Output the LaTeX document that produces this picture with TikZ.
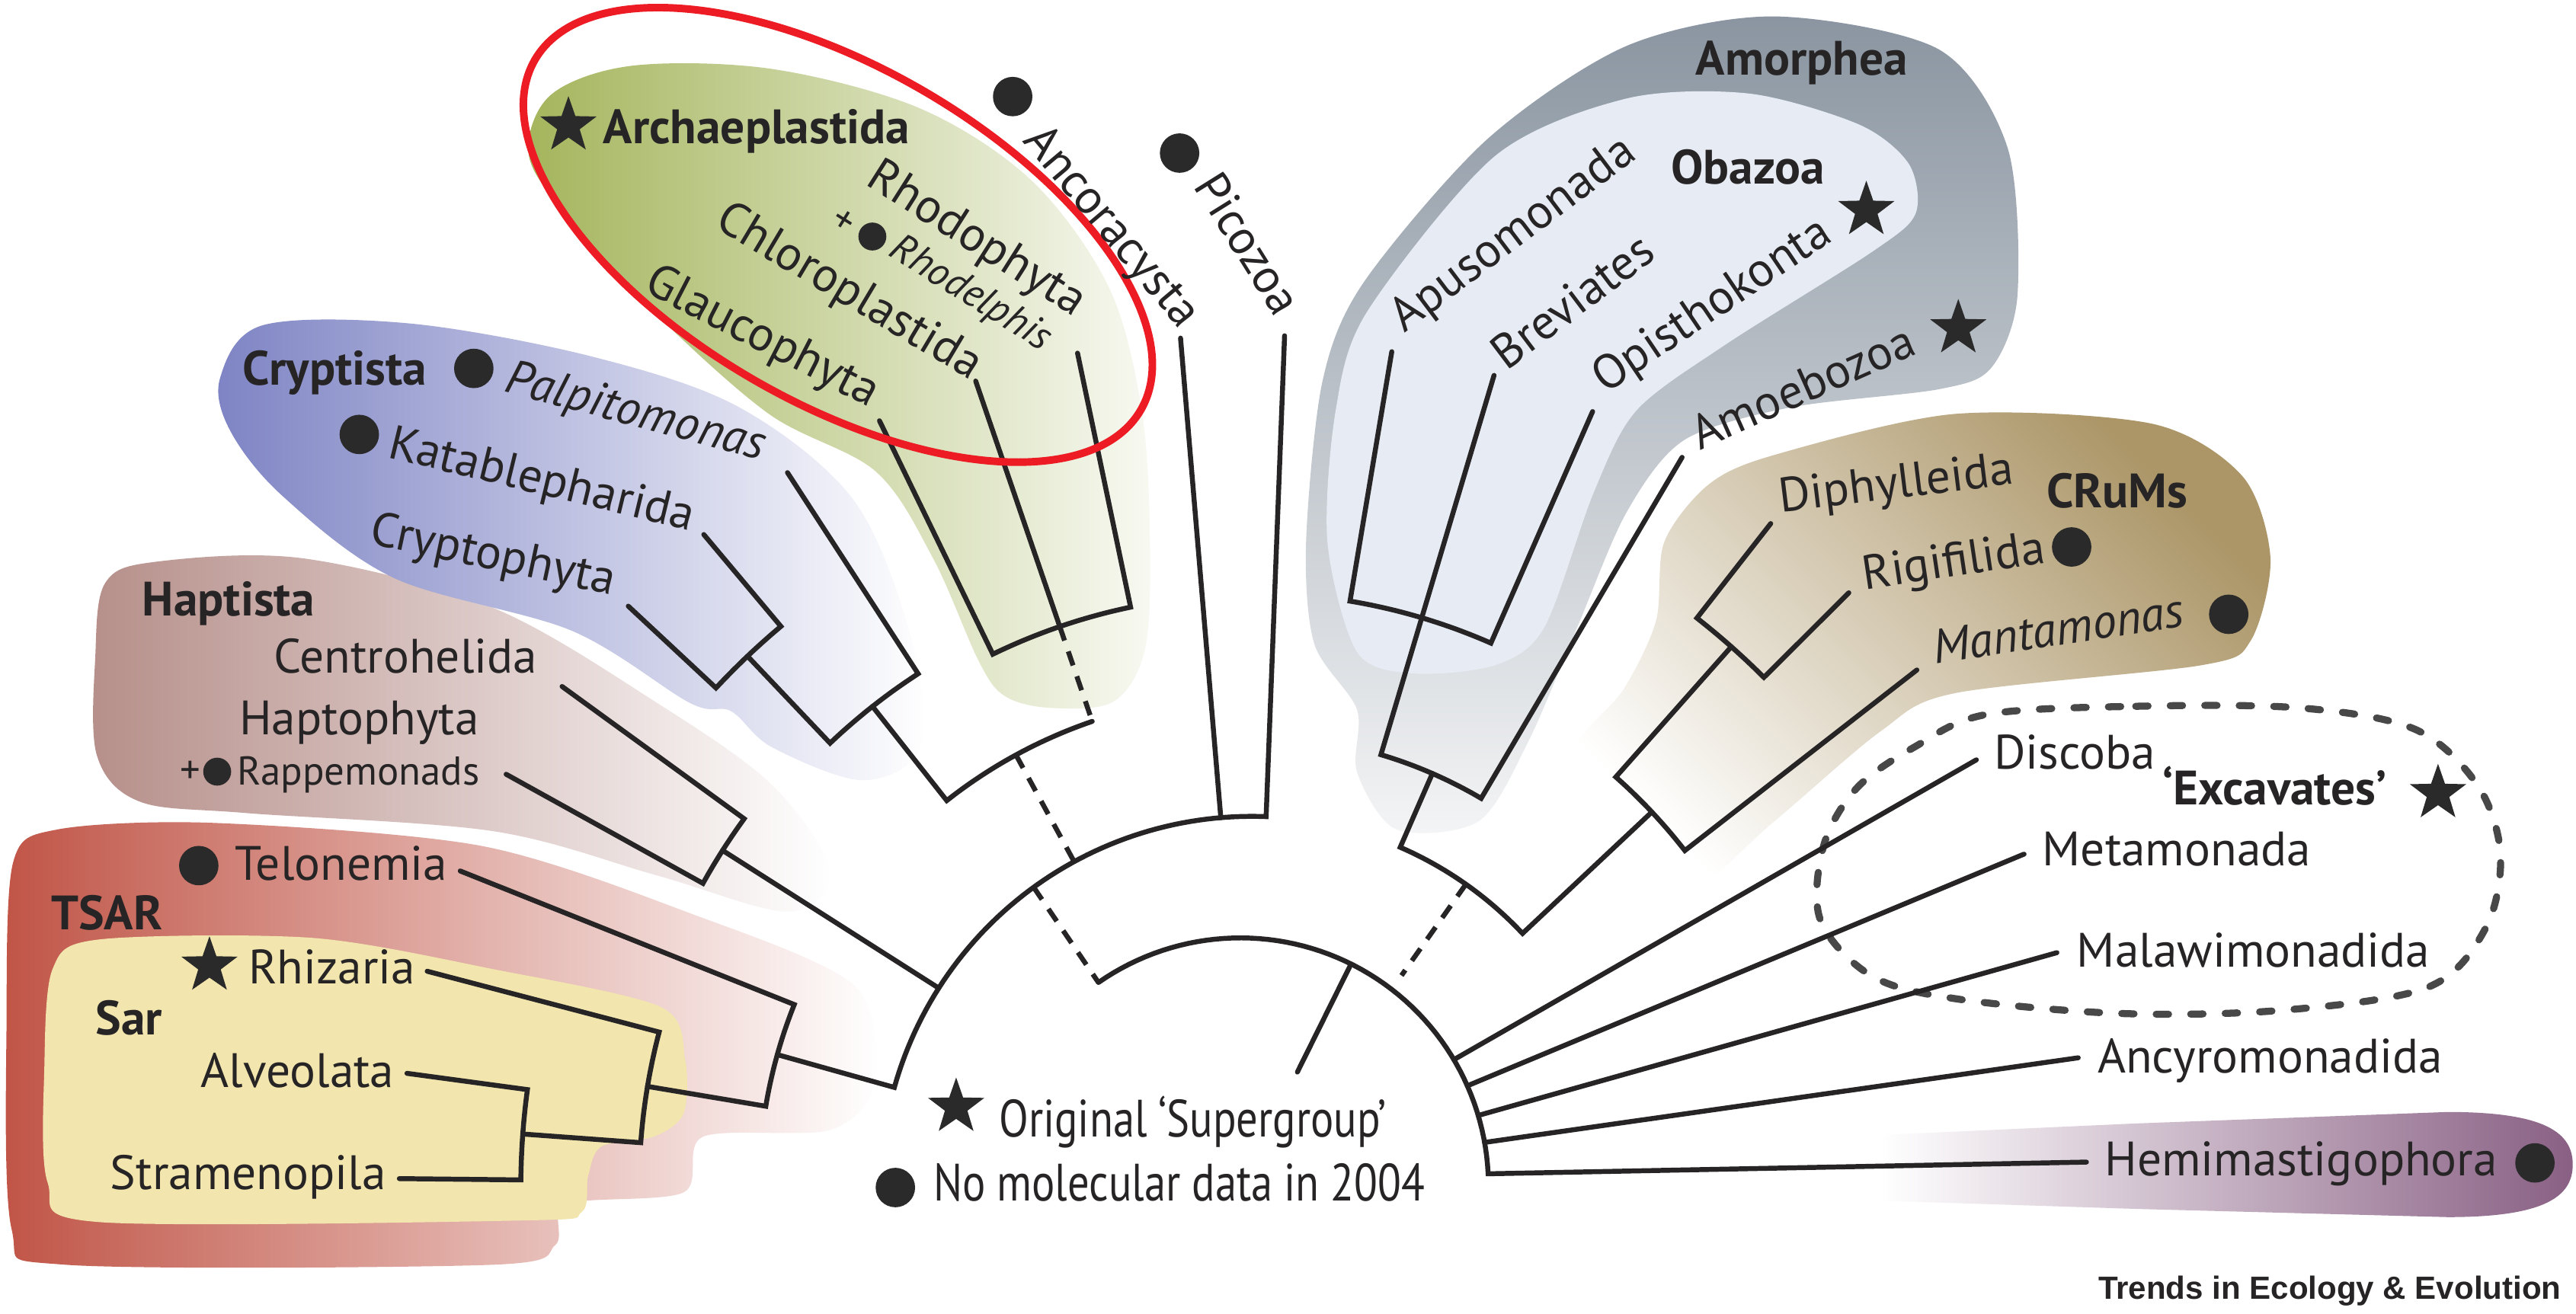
\documentclass[tikz,border=0pt]{standalone}
\usepackage{fontspec}
\setmainfont{PT Sans}
\newfontfamily\trendsfont{Liberation Sans}
\usetikzlibrary{calc,shapes.geometric}
\definecolor{lineC}{RGB}{38,36,37}
\definecolor{dotC}{RGB}{43,42,42}
\definecolor{tsarC}{RGB}{192,84,70}
\definecolor{sarC}{RGB}{242,230,174}
\definecolor{haptC}{RGB}{182,143,138}
\definecolor{cryC}{RGB}{126,132,196}
\definecolor{arcC}{RGB}{164,181,92}
\definecolor{amoC}{RGB}{138,149,161}
\definecolor{obaC}{RGB}{231,235,243}
\definecolor{crumC}{RGB}{172,150,104}
\definecolor{hemC}{RGB}{137,96,132}
\definecolor{redC}{RGB}{237,28,36}
\definecolor{excC}{RGB}{72,72,72}
\tikzset{
 br/.style={line width=3pt, draw=lineC, line cap=round, line join=miter},
 brd/.style={line width=3pt, draw=lineC, line cap=butt, dash pattern=on 9pt off 7pt},
 lab/.style={font=\fontsize{29.4}{31}\selectfont, inner sep=0pt, anchor=base west, text=lineC},
 blab/.style={lab, font=\fontsize{29.4}{31}\selectfont\bfseries},
 ilab/.style={lab, font=\fontsize{29.4}{31}\selectfont\itshape},
 slab/.style={lab, font=\fontsize{24.5}{26}\selectfont},
 silab/.style={lab, font=\fontsize{24.5}{26}\selectfont\itshape},
 leglab/.style={lab, font=\fontsize{32}{34}\selectfont},
 dot/.style={circle, fill=dotC, inner sep=0pt, minimum size=24pt},
 sdot/.style={circle, fill=dotC, inner sep=0pt, minimum size=17pt},
 gstar/.style={star, star points=5, star point ratio=2.5, fill=dotC, inner sep=0pt, minimum size=36pt},
}
\begin{document}
\begin{tikzpicture}[x=1pt,y=-1pt]
\useasboundingbox (0,0) rectangle (1568,800);
\fill[white] (0,0) rectangle (1568,800);

% ---------- background regions ----------
\shade[left color=haptC, right color=white] plot[smooth cycle, tension=0.55] coordinates {(58,400) (64,355) (95,342) (185,340) (300,370) (400,428) (470,478) (505,530) (480,555) (400,533) (300,506) (150,495) (85,488) (59,460)};
\shade[left color=tsarC, right color=white] plot[smooth cycle, tension=0.5] coordinates {(4,620) (8,525) (35,505) (130,501) (293,515) (420,556) (520,600) (532,660) (505,688) (428,692) (416,726) (345,733) (338,758) (300,770) (40,770) (7,748)};
\fill[sarC] plot[smooth cycle, tension=0.5] coordinates {(27,650) (32,590) (60,572) (190,571) (300,590) (402,613) (417,645) (416,678) (398,692) (366,698) (358,716) (354,738) (320,743) (60,744) (29,720)};
\shade[left color=cryC, right color=white] plot[smooth cycle, tension=0.55] coordinates {(134,230) (160,198) (250,197) (360,217) (450,248) (520,305) (555,390) (560,455) (525,475) (470,455) (445,433) (420,428) (348,384) (240,352) (172,302) (140,262)};
\shade[left color=arcC, right color=arcC!8!white] plot[smooth cycle, tension=0.55] coordinates {(322,95) (335,58) (385,40) (470,42) (560,66) (628,110) (675,175) (695,250) (700,330) (697,395) (678,427) (640,431) (612,424) (596,403) (568,340) (533,287) (468,252) (398,190) (348,135)};
\shade[top color=amoC, bottom color=amoC!10!white] plot[smooth cycle, tension=0.5] coordinates {(795,330) (805,232) (830,172) (905,85) (990,28) (1080,10) (1180,30) (1222,90) (1228,180) (1212,224) (1180,237) (1090,248) (1025,268) (990,312) (960,382) (930,452) (900,500) (850,505) (826,470) (826,432) (800,392)};
\fill[obaC] plot[smooth cycle, tension=0.5] coordinates {(808,330) (813,250) (832,190) (910,95) (990,60) (1065,57) (1132,76) (1162,100) (1166,130) (1140,153) (1050,210) (996,250) (970,300) (940,382) (910,405) (860,410) (826,397)};
\shade[top color=crumC, bottom color=white, shading angle=-45] plot[smooth cycle, tension=0.5] coordinates {(1008,378) (1013,330) (1040,295) (1080,277) (1190,252) (1310,258) (1365,290) (1382,340) (1370,390) (1340,405) (1190,422) (1145,445) (1080,500) (1020,548) (960,530) (955,462) (988,420)};
\shade[left color=white, right color=hemC] (1145,691) -- (1300,684) -- (1490,677) .. controls (1550,677) and (1566,690) .. (1566,709) .. controls (1566,728) and (1550,741) .. (1490,741) -- (1300,736) -- (1145,731) -- cycle;
\draw[excC, line width=4.3pt, line cap=round, dash pattern=on 7.5pt off 13.5pt] plot[smooth cycle, tension=0.55] coordinates {(1209,435) (1300,430) (1400,431) (1470,444) (1508,478) (1522,520) (1513,565) (1478,601) (1390,615) (1290,617) (1190,608) (1139,594) (1108,560) (1110,515) (1130,480) (1165,455)};

% ---------- tree coordinates ----------
\coordinate (C) at (762,723);
\coordinate (C2) at (755,722);
\coordinate (Tel) at ($(C)+(-158.2:519)$);
\coordinate (Rhi) at ($(C)+(-165.3:519)$);
\coordinate (Alv) at ($(C)+(-172.3:519)$);
\coordinate (Str) at ($(C)+(-179.4:519)$);
\coordinate (Cen) at ($(C)+(-144:519)$);
\coordinate (Rap) at ($(C)+(-151:519)$);
\coordinate (Pal) at ($(C)+(-123:519)$);
\coordinate (Kat) at ($(C)+(-130:519)$);
\coordinate (Cry) at ($(C)+(-137:519)$);
\coordinate (Gla) at ($(C)+(-115.9:519)$);
\coordinate (Chl) at ($(C)+(-108.9:519)$);
\coordinate (Rho) at ($(C)+(-101.8:519)$);
\coordinate (Anc) at ($(C)+(-94.8:519)$);
\coordinate (Pic) at ($(C)+(-87.8:519)$);
\coordinate (Apu) at ($(C)+(-80.5:516)$);
\coordinate (Bre) at ($(C)+(-73.4:516)$);
\coordinate (Opi) at ($(C)+(-66.3:516)$);
\coordinate (Amo) at ($(C)+(-59.5:516)$);
\coordinate (Dip) at ($(C)+(-52:513)$);
\coordinate (Rig) at ($(C)+(-44.9:513)$);
\coordinate (Man) at ($(C)+(-37.9:513)$);
\coordinate (Dis) at (1203,462.6);
\coordinate (Met) at (1232,520);
\coordinate (Mal) at (1252,580);
\coordinate (Ayr) at (1265,644);
\coordinate (Hem) at (1270,707.5);
\coordinate (Root) at (789.7,652.7);

% ---------- TSAR ----------
\draw[br] (Tel) -- ($(C)+(-158.2:300)$) -- plot[domain=-158.2:-170.5,samples=20] ({762+300*cos(\x)},{723+300*sin(\x)}) -- ($(C)+(-170.5:373)$);
\draw[br] (Rhi) -- ($(C)+(-165.3:373)$) -- plot[domain=-165.3:-175.8,samples=20] ({762+373*cos(\x)},{723+373*sin(\x)}) -- ($(C)+(-175.8:445)$);
\draw[br] (Alv) -- ($(C)+(-172.3:445)$) -- plot[domain=-172.3:-179.4,samples=15] ({762+445*cos(\x)},{723+445*sin(\x)}) -- (Str);
% ---------- Haptista ----------
\draw[br] (Cen) -- ($(C)+(-144:382)$) -- plot[domain=-144:-151,samples=15] ({762+382*cos(\x)},{723+382*sin(\x)}) -- (Rap);
\draw[br] ($(C)+(-147.5:382)$) -- ($(C)+(-147.5:226)$);
% ---------- Cryptista ----------
\draw[br] (Kat) -- ($(C)+(-130:446)$) -- plot[domain=-130:-137,samples=15] ({762+446*cos(\x)},{723+446*sin(\x)}) -- (Cry);
\draw[br] ($(C)+(-133.5:446)$) -- ($(C)+(-133.5:373)$) -- plot[domain=-133.5:-123,samples=15] ({762+373*cos(\x)},{723+373*sin(\x)}) -- (Pal);
\draw[br] ($(C)+(-128.25:373)$) -- ($(C)+(-128.25:300)$) -- plot[domain=-128.25:-108.9,samples=25] ({762+300*cos(\x)},{723+300*sin(\x)});
% ---------- Archaeplastida ----------
\draw[br] (Gla) -- ($(C)+(-115.9:361)$) -- plot[domain=-115.9:-101.8,samples=20] ({762+361*cos(\x)},{723+361*sin(\x)}) -- (Rho);
\draw[br] (Chl) -- ($(C)+(-108.9:361)$);
\draw[brd] ($(C)+(-108.9:361)$) -- ($(C)+(-108.9:300)$);
\draw[brd] ($(C)+(-118.6:300)$) -- ($(C)+(-118.6:226)$);
% ---------- main arcs ----------
\draw[br] ($(C)+(-164.35:300)$) -- plot[domain=-164.35:-87.8,samples=60] ({762+226*cos(\x)},{723+226*sin(\x)}) -- (Pic);
\draw[br] (Anc) -- ($(C)+(-94.8:226)$);
\draw[brd] ($(C)+(-126:226)$) -- ($(C2)+(-124.9:151)$);
% ---------- Amorphea ----------
\draw[br] (Apu) -- ($(C)+(-80.5:362)$) -- plot[domain=-80.5:-66.3,samples=20] ({762+362*cos(\x)},{723+362*sin(\x)}) -- (Opi);
\draw[br] (Bre) -- ($(C)+(-73.4:275)$) -- plot[domain=-73.4:-59.5,samples=20] ({762+275*cos(\x)},{723+275*sin(\x)}) -- (Amo);
\draw[br] ($(C)+(-66.45:275)$) -- plot[domain=-66.45:-43.2,samples=25] ({762+226*cos(\x)},{723+226*sin(\x)}) -- ($(C)+(-43.2:334)$);
% ---------- CRuMs ----------
\draw[br] (Dip) -- ($(C)+(-52:440)$) -- plot[domain=-52:-44.9,samples=15] ({762+440*cos(\x)},{723+440*sin(\x)}) -- (Rig);
\draw[br] ($(C)+(-48.45:440)$) -- ($(C)+(-48.45:334)$) -- plot[domain=-48.45:-37.9,samples=15] ({762+334*cos(\x)},{723+334*sin(\x)}) -- (Man);
\draw[brd] ($(C)+(-54.8:226)$) -- ($(C)+(-54.8:158)$);
% ---------- inner arc ----------
\draw[br] plot[domain=-124.9:-2.8,samples=60] ({755+151*cos(\x)},{722+151*sin(\x)}) -- (Hem);
\draw[br] ($(C2)+(-30.6:151)$) -- (Dis);
\draw[br] ($(C2)+(-23.8:151)$) -- (Met);
\draw[br] ($(C2)+(-16.5:151)$) -- (Mal);
\draw[br] ($(C2)+(-10.1:151)$) -- (Ayr);
\draw[br] ($(C2)+(-63.5:151)$) -- (Root);

% ---------- red ellipse ----------
\draw[redC, line width=4.6pt, rotate around={-30:(510,143)}] (510,143) ellipse [x radius=213, y radius=102];

% ---------- labels left ----------
\node[dot] (dTel) at (121,527) {};
\node[lab] (tTel) at (143,536) {Telonemia};
\node[blab] (tTSAR) at (31,566) {TSAR};
\node[gstar] (sRhi) at (127.5,588) {};
\node[lab] (tRhi) at (151,599) {Rhizaria};
\node[blab] (tSar) at (58,630) {Sar};
\node[lab] (tAlv) at (122,662) {Alveolata};
\node[lab] (tStr) at (67,724) {Stramenopila};
\node[blab] (tHap) at (86.5,375) {Haptista};
\node[lab] (tCen) at (166.4,409.6) {Centrohelida};
\node[lab] (tHpt) at (145.5,447.4) {Haptophyta};
\node[slab, anchor=center] (pRap) at (116,470) {+};
\node[sdot] (dRap) at (132.2,469.8) {};
\node[slab] (tRap) at (144.2,478) {Rappemonads};
\node[blab] (tCrt) at (147.7,234.5) {Cryptista};
\node[dot] (dPal) at (288.4,224.3) {};
\node[ilab, rotate=-15] (tPal) at (306,238) {Palpitomonas};
\node[dot] (dKat) at (218.7,264.5) {};
\node[lab, rotate=-13.6] (tKat) at (235,278.3) {Katablepharida};
\node[lab, rotate=-12] (tCry) at (224,330.8) {Cryptophyta};
% ---------- Archaeplastida labels ----------
\node[gstar] (sArc) at (346,76.5) {};
\node[blab] (tArc) at (367,87.6) {Archaeplastida};
\node[lab, rotate=-32.4] (tRho) at (526,112) {Rhodophyta};
\node[slab, anchor=center, rotate=-32] (pRhd) at (513,135) {+};
\node[sdot] (dRhd) at (531,144) {};
\node[silab, rotate=-32] (tRhd) at (540,155) {Rhodelphis};
\node[lab, rotate=-30.8] (tChl) at (434,138) {Chloroplastida};
\node[lab, rotate=-27.2] (tGla) at (391,177) {Glaucophyta};
\node[dot] (dAnc) at (616.4,58.8) {};
\node[lab, rotate=-50] (tAnc) at (622,86) {Ancoracysta};
\node[dot] (dPic) at (718,93.2) {};
\node[lab, rotate=-58] (tPic) at (726,113) {Picozoa};
% ---------- Amorphea labels ----------
\node[blab] (tAmh) at (1032,45.5) {Amorphea};
\node[blab] (tOba) at (1017,112) {Obazoa};
\node[gstar] (sOpi) at (1136,128) {};
\node[gstar] (sAmo) at (1192,200) {};
\node[lab, rotate=37] (tApu) at (855,203) {Apusomonada};
\node[lab, rotate=37] (tBre) at (917,226) {Breviates};
\node[lab, rotate=34] (tOpi) at (977,240) {Opisthokonta};
\node[lab, rotate=24] (tAmo) at (1034.5,274.5) {Amoebozoa};
% ---------- CRuMs labels ----------
\node[lab, rotate=7] (tDip) at (1084,312) {Diphylleida};
\node[blab] (tCRu) at (1245.5,309) {CRuMs};
\node[lab, rotate=8.5] (tRig) at (1135,359) {Rigifilida};
\node[dot] (dRig) at (1261,333) {};
\node[ilab, rotate=8.5] (tMan) at (1178,404) {Mantamonas};
\node[dot] (dMan) at (1356.6,374) {};
% ---------- right labels ----------
\node[lab] (tDis) at (1213.5,468) {Discoba};
\node[blab] (tExc) at (1316,490) {‘Excavates’};
\node[gstar] (sExc) at (1484,483) {};
\node[lab] (tMet) at (1243,527) {Metamonada};
\node[lab] (tMal) at (1264,588.6) {Malawimonadida};
\node[lab] (tAyr) at (1276.6,653) {Ancyromonadida};
\node[lab] (tHem) at (1281,716) {Hemimastigophora};
\node[dot] (dHem) at (1543,708) {};
% ---------- legend ----------
\node[gstar] (sLeg) at (582,674) {};
\node[leglab] (tLeg1) at (608,692) {\scalebox{0.82}[1]{Original ‘Supergroup’}};
\node[dot] (dLeg) at (545,723) {};
\node[leglab] (tLeg2) at (568,731) {\scalebox{0.82}[1]{No molecular data in 2004}};
\node[inner sep=0pt, anchor=base west, text=lineC, font=\trendsfont\fontsize{19.5}{21}\selectfont\bfseries] (tTrends) at (1277,791) {Trends in Ecology \& Evolution};
\end{tikzpicture}
\end{document}
